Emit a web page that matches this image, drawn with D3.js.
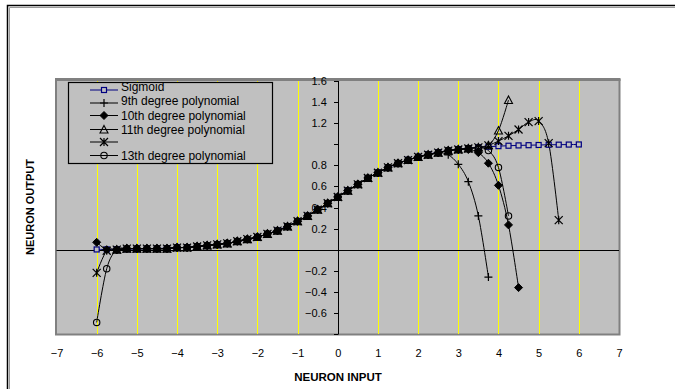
<!DOCTYPE html>
<html>
<head>
<meta charset="utf-8">
<script src="https://cdn.jsdelivr.net/npm/d3@7"></script>
<style>
  html, body { margin: 0; padding: 0; background: #fff; }
  svg { display: block; font-family: "Liberation Sans", Arial, sans-serif; }
</style>
</head>
<body>
<svg id="chart" width="675" height="389"></svg>
<script>
// ---- data ----
const xValues = [-6,-5.75,-5.5,-5.25,-5,-4.75,-4.5,-4.25,-4,-3.75,-3.5,-3.25,-3,-2.75,-2.5,-2.25,-2,-1.75,-1.5,-1.25,-1,-0.75,-0.5,-0.25,0,0.25,0.5,0.75,1,1.25,1.5,1.75,2,2.25,2.5,2.75,3,3.25,3.5,3.75,4,4.25,4.5,4.75,5,5.25,5.5,5.75,6];
const sigmoid = [0.002,0.003,0.004,0.005,0.007,0.009,0.011,0.014,0.018,0.023,0.029,0.037,0.047,0.060,0.076,0.095,0.119,0.148,0.182,0.223,0.269,0.321,0.378,0.438,0.500,0.562,0.622,0.679,0.731,0.777,0.818,0.852,0.881,0.905,0.924,0.940,0.953,0.963,0.971,0.977,0.982,0.986,0.989,0.991,0.993,0.995,0.996,0.997,0.998];
const poly9 = [null,null,0.00,0.01,0.01,0.01,0.01,0.01,0.02,0.02,0.03,0.04,0.05,0.06,0.08,0.10,0.12,0.15,0.18,0.22,0.27,0.32,0.38,0.44,0.50,0.56,0.62,0.68,0.73,0.78,0.82,0.85,0.88,0.90,0.92,0.90,0.81,0.645,0.32,-0.26,null,null,null,null,null,null,null,null,null];
const poly10 = [0.07,0.00,0.00,0.01,0.01,0.01,0.01,0.01,0.02,0.02,0.03,0.04,0.05,0.06,0.08,0.10,0.12,0.15,0.18,0.22,0.27,0.32,0.38,0.44,0.50,0.56,0.62,0.68,0.73,0.78,0.82,0.85,0.88,0.90,0.92,0.94,0.95,0.95,0.92,0.82,0.61,0.235,-0.36,null,null,null,null,null,null];
const poly11 = [null,null,0.00,0.01,0.01,0.01,0.01,0.01,0.02,0.02,0.03,0.04,0.05,0.06,0.08,0.10,0.12,0.15,0.18,0.22,0.27,0.32,0.38,0.44,0.50,0.56,0.62,0.68,0.73,0.78,0.82,0.85,0.88,0.90,0.92,0.94,0.95,0.96,0.97,0.99,1.13,1.42,null,null,null,null,null,null,null];
const poly12 = [-0.22,-0.01,0.00,0.01,0.01,0.01,0.01,0.01,0.02,0.02,0.03,0.04,0.05,0.06,0.08,0.10,0.12,0.15,0.18,0.22,0.27,0.32,0.38,0.44,0.50,0.56,0.62,0.68,0.73,0.78,0.82,0.85,0.88,0.90,0.92,0.94,0.95,0.96,0.97,0.99,1.03,1.08,1.14,1.21,1.22,1.01,0.28,null,null];
const poly13 = [-0.69,-0.18,0.00,0.01,0.01,0.01,0.01,0.01,0.02,0.02,0.03,0.04,0.05,0.06,0.08,0.10,0.12,0.15,0.18,0.22,0.27,0.32,0.38,0.44,0.50,0.56,0.62,0.68,0.73,0.78,0.82,0.85,0.88,0.90,0.92,0.94,0.95,0.96,0.965,0.94,0.78,0.32,null,null,null,null,null,null,null];

const seriesNames = ["Sigmoid","9th degree polynomial","10th degree polynomial","11th degree polynomial","","13th degree polynomial"];
const xTickValues = [-7,-6,-5,-4,-3,-2,-1,0,1,2,3,4,5,6,7];
const xGridValues = [-6,-5,-4,-3,-2,-1,1,2,3,4,5,6];
const yTickValues = [1.6,1.4,1.2,0.8,0.6,0.4,0.2,-0.2,-0.4,-0.6];
const yTickMarks = [1.6,1.4,1.2,1.0,0.8,0.6,0.4,0.2,0,-0.2,-0.4,-0.6,-0.8];
const xTitle = "NEURON INPUT";
const yTitle = "NEURON OUTPUT";

// ---- layout ----
const svg = d3.select("#chart");
const x = d3.scaleLinear().domain([-7, 7]).range([56.5, 619]);
const y = d3.scaleLinear().domain([-0.8, 1.6]).range([334, 81]);

// outer frame
svg.append("path").attr("d", "M7.5,389 V5.5 H675").attr("fill", "none")
  .attr("stroke", "#000").attr("stroke-width", 1.5);
svg.append("path").attr("d", "M9.5,389 V7.5 H675").attr("fill", "none")
  .attr("stroke", "#9a9a9a").attr("stroke-width", 1);

// plot area
svg.append("rect").attr("x", 56).attr("y", 80).attr("width", 563.5).attr("height", 254.5)
  .attr("fill", "#C0C0C0").attr("stroke", "#808080").attr("stroke-width", 2);
svg.append("line").attr("x1", 55).attr("x2", 620.5).attr("y1", 79.5).attr("y2", 79.5)
  .attr("stroke", "#808080").attr("stroke-width", 3);

// y tick labels (behind the data)
const yAxis = d3.axisLeft(y).tickValues(yTickValues).tickSize(0).tickPadding(11)
  .tickFormat(d3.format(".1f"));
const gy = svg.append("g").attr("transform", `translate(${x(0)},0)`).call(yAxis);
gy.select(".domain").remove();
gy.selectAll("text").attr("font-size", 11).attr("fill", "#000")
  .attr("font-family", "Liberation Sans, Arial, sans-serif");

// gridlines
svg.append("g").selectAll("line").data(xGridValues).join("line")
  .attr("x1", d => Math.round(x(d)) + 0.5).attr("x2", d => Math.round(x(d)) + 0.5)
  .attr("y1", 81).attr("y2", 334)
  .attr("stroke", "#FFFF00").attr("stroke-width", 1);

// axes lines
svg.append("line").attr("x1", x(-7)).attr("x2", x(7)).attr("y1", Math.round(y(0)) + 0.5).attr("y2", Math.round(y(0)) + 0.5)
  .attr("stroke", "#000").attr("stroke-width", 1);
svg.append("line").attr("x1", Math.round(x(0)) + 0.5).attr("x2", Math.round(x(0)) + 0.5).attr("y1", 81).attr("y2", 334)
  .attr("stroke", "#000").attr("stroke-width", 1);
svg.append("g").selectAll("line").data(yTickMarks).join("line")
  .attr("x1", Math.round(x(0)) - 4).attr("x2", Math.round(x(0)) + 0.5)
  .attr("y1", d => Math.round(y(d)) + 0.5).attr("y2", d => Math.round(y(d)) + 0.5)
  .attr("stroke", "#000");

// x tick labels
const xAxis = d3.axisBottom(x).tickValues(xTickValues).tickSize(0).tickPadding(15).tickFormat(d3.format("d"));
const gx = svg.append("g").attr("transform", `translate(0,334)`).call(xAxis);
gx.select(".domain").remove();
gx.selectAll("text").attr("font-size", 11).attr("fill", "#000")
  .attr("font-family", "Liberation Sans, Arial, sans-serif");

// titles
svg.append("text").attr("x", 338).attr("y", 381).attr("text-anchor", "middle")
  .attr("font-size", 11.5).attr("font-weight", "bold").text(xTitle);
svg.append("text").attr("transform", "translate(34,207) rotate(-90)").attr("text-anchor", "middle")
  .attr("font-size", 11).attr("font-weight", "bold").text(yTitle);

// ---- markers ----
function marker(sel, type) {
  const s = 4;
  if (type === "square") {
    sel.append("rect").attr("x", -2.5).attr("y", -2.5).attr("width", 5).attr("height", 5)
      .attr("fill", "#C0C0C0").attr("stroke", "#000080").attr("stroke-width", 1.2);
  } else if (type === "plus") {
    sel.append("path").attr("d", `M${-s},0H${s}M0,${-s}V${s}`).attr("stroke", "#000").attr("stroke-width", 1.2).attr("fill", "none");
  } else if (type === "diamond") {
    sel.append("path").attr("d", `M0,${-s}L${s},0L0,${s}L${-s},0Z`).attr("fill", "#000").attr("stroke", "#000");
  } else if (type === "triangle") {
    sel.append("path").attr("d", `M0,${-s}L${s},${s - 0.5}L${-s},${s - 0.5}Z`).attr("fill", "none").attr("stroke", "#000").attr("stroke-width", 1.1);
  } else if (type === "star") {
    sel.append("path").attr("d", `M${-s},${-s}L${s},${s}M${-s},${s}L${s},${-s}M0,${-s}V${s}`).attr("fill", "none").attr("stroke", "#000").attr("stroke-width", 1.2);
  } else if (type === "circle") {
    sel.append("circle").attr("r", 3.2).attr("fill", "none").attr("stroke", "#000").attr("stroke-width", 1.1);
  }
}

const series = [
  { name: seriesNames[0], values: sigmoid, color: "#000080", marker: "square" },
  { name: seriesNames[1], values: poly9, color: "#000", marker: "plus" },
  { name: seriesNames[2], values: poly10, color: "#000", marker: "diamond" },
  { name: seriesNames[3], values: poly11, color: "#000", marker: "triangle" },
  { name: seriesNames[4], values: poly12, color: "#000", marker: "star" },
  { name: seriesNames[5], values: poly13, color: "#000", marker: "circle" }
];

const line = d3.line()
  .defined(d => d[1] !== null)
  .x(d => x(d[0])).y(d => y(d[1]))
  .curve(d3.curveCardinal.tension(0));

const plot = svg.append("g");
series.forEach(s => {
  const pts = xValues.map((xv, i) => [xv, s.values[i]]);
  plot.append("path").attr("d", line(pts)).attr("fill", "none")
    .attr("stroke", s.color).attr("stroke-width", 1);
});
series.forEach(s => {
  const pts = xValues.map((xv, i) => [xv, s.values[i]]).filter(d => d[1] !== null);
  plot.append("g").selectAll("g").data(pts).join("g")
    .attr("transform", d => `translate(${x(d[0])},${y(d[1])})`)
    .each(function () { marker(d3.select(this), s.marker); });
});

// ---- legend ----
const legend = svg.append("g");
legend.append("rect").attr("x", 68.5).attr("y", 82.5).attr("width", 204).attr("height", 81)
  .attr("fill", "#C0C0C0").attr("stroke", "#000").attr("stroke-width", 1.2);
const legLineY = [90, 103, 115.5, 129.5, 142, 155.5];
const legTextY = [86.3, 100.7, 115.5, 129.5, 142, 155.5];
series.forEach((s, i) => {
  legend.append("line").attr("x1", 90).attr("x2", 118).attr("y1", legLineY[i]).attr("y2", legLineY[i])
    .attr("stroke", s.color).attr("stroke-width", 1);
  const g = legend.append("g").attr("transform", `translate(104,${legLineY[i]})`);
  marker(g, s.marker);
  legend.append("text").attr("x", 121).attr("y", legTextY[i]).attr("dy", "0.35em")
    .attr("font-size", 12).attr("fill", "#000").text(s.name);
});
</script>
</body>
</html>
